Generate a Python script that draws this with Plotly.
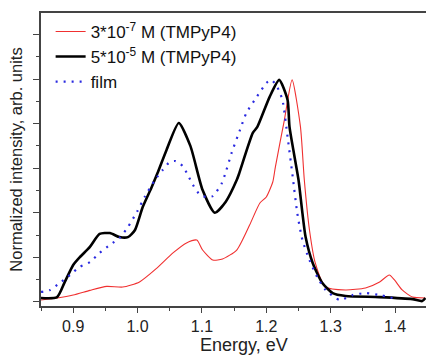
import plotly.graph_objects as go

# Energy (eV) and normalized intensity
red_e = [0.85, 0.875, 0.90, 0.926, 0.952, 0.977, 1.003, 1.03, 1.055, 1.076, 1.092, 1.101,
         1.117, 1.132, 1.154, 1.174, 1.19, 1.20, 1.21, 1.214, 1.228, 1.24, 1.253, 1.259,
         1.267, 1.276, 1.292, 1.323, 1.354, 1.376, 1.391, 1.399, 1.411, 1.427, 1.447]
red_v = [0.009, 0.018, 0.031, 0.052, 0.070, 0.067, 0.09, 0.152, 0.22, 0.265, 0.278, 0.233,
         0.188, 0.193, 0.233, 0.345, 0.444, 0.471, 0.538, 0.605, 0.816, 0.996, 0.785, 0.547,
         0.323, 0.175, 0.067, 0.054, 0.063, 0.09, 0.121, 0.099, 0.054, 0.022, 0.018]

black_e = [0.85, 0.875, 0.887, 0.90, 0.910, 0.926, 0.941, 0.957, 0.972, 0.985, 0.996, 1.008,
           1.022, 1.031, 1.045, 1.064, 1.082, 1.101, 1.12, 1.137, 1.154, 1.158, 1.179, 1.186,
           1.205, 1.22, 1.233, 1.236, 1.25, 1.256, 1.261, 1.272, 1.287, 1.303, 1.323, 1.376,
           1.427, 1.442, 1.447]
black_v = [0.018, 0.022, 0.09, 0.166, 0.20, 0.247, 0.305, 0.309, 0.291, 0.291, 0.323, 0.426,
           0.516, 0.578, 0.682, 0.803, 0.70, 0.502, 0.40, 0.45, 0.547, 0.578, 0.758, 0.785,
           0.919, 0.996, 0.906, 0.785, 0.547, 0.40, 0.291, 0.175, 0.085, 0.040, 0.027, 0.022,
           0.013, 0.004, 0.018]

film_e = [0.85, 0.864, 0.879, 0.895, 0.910, 0.926, 0.941, 0.957, 0.972, 0.985, 0.999, 1.011,
          1.027, 1.039, 1.05, 1.059, 1.07, 1.078, 1.086, 1.097, 1.107, 1.117, 1.131, 1.138,
          1.146, 1.159, 1.169, 1.185, 1.200, 1.208, 1.217, 1.225, 1.233, 1.241, 1.248, 1.256,
          1.267, 1.279, 1.292, 1.314, 1.334, 1.354, 1.376, 1.396]
film_v = [0.045, 0.054, 0.085, 0.121, 0.157, 0.179, 0.22, 0.256, 0.287, 0.336, 0.404, 0.471,
          0.547, 0.592, 0.628, 0.632, 0.61, 0.57, 0.525, 0.48, 0.471, 0.475, 0.534, 0.592,
          0.668, 0.771, 0.848, 0.919, 0.982, 0.996, 0.964, 0.906, 0.74, 0.561, 0.40, 0.278,
          0.188, 0.112, 0.054, 0.009, 0.031, 0.04, 0.031, 0.018]

x_ticks = [0.9, 1.0, 1.1, 1.2, 1.3, 1.4]
x_labels = ["0.9", "1.0", "1.1", "1.2", "1.3", "1.4"]
x_title = "Energy, eV"
y_title = "Normalized intensity, arb. units"

FONT = "Liberation Sans, Arial, sans-serif"

fig = go.Figure()
fig.add_trace(go.Scatter(x=red_e, y=red_v, mode="lines",
                         name="3*10<sup>-7</sup> M (TMPyP4)",
                         line=dict(color="#f03030", width=1.1, shape="spline", smoothing=0.6)))
fig.add_trace(go.Scatter(x=black_e, y=black_v, mode="lines",
                         name="5*10<sup>-5</sup> M (TMPyP4)",
                         line=dict(color="#000000", width=2.6, shape="spline", smoothing=0.6)))
fig.add_trace(go.Scatter(x=film_e, y=film_v, mode="lines", name="film",
                         line=dict(color="#2a2ae0", width=2.2, dash="2px,6px",
                                   shape="spline", smoothing=0.6)))

fig.add_annotation(text=x_title, xref="paper", yref="paper", x=0.527, y=0,
                   xanchor="center", yanchor="middle", yshift=-39, showarrow=False,
                   font=dict(size=18, color="#222"))

fig.update_layout(
    width=426, height=358,
    margin=dict(l=41, r=0, t=13, b=52),
    paper_bgcolor="white", plot_bgcolor="white",
    font=dict(family=FONT, size=16, color="#222"),
    showlegend=True,
    legend=dict(x=0.025, y=0.997, xanchor="left", yanchor="top",
                bgcolor="rgba(0,0,0,0)", font=dict(size=17, color="#111"),
                tracegroupgap=0),
    xaxis=dict(range=[0.85, 1.448], tickvals=x_ticks, ticktext=x_labels,
               tickfont=dict(size=16),
               showgrid=False, zeroline=False, showline=True, linecolor="#444",
               linewidth=1.5, mirror=True, ticks="outside", ticklen=5, tickwidth=1.2,
               tickcolor="#444",
               minor=dict(dtick=0.05, tick0=0.85, ticks="outside", ticklen=3,
                          tickcolor="#444", showgrid=False)),
    yaxis=dict(range=[-0.018, 1.296], tick0=0, dtick=0.2, showticklabels=False,
               showgrid=False, zeroline=False, showline=True, linecolor="#444",
               linewidth=1.5, ticks="outside", ticklen=6, tickwidth=1.2, tickcolor="#444",
               minor=dict(dtick=0.1, tick0=0, ticks="outside", ticklen=3,
                          tickcolor="#444", showgrid=False),
               title=dict(text=y_title, font=dict(size=16.5), standoff=6)),
)

fig.write_html("out.html")
